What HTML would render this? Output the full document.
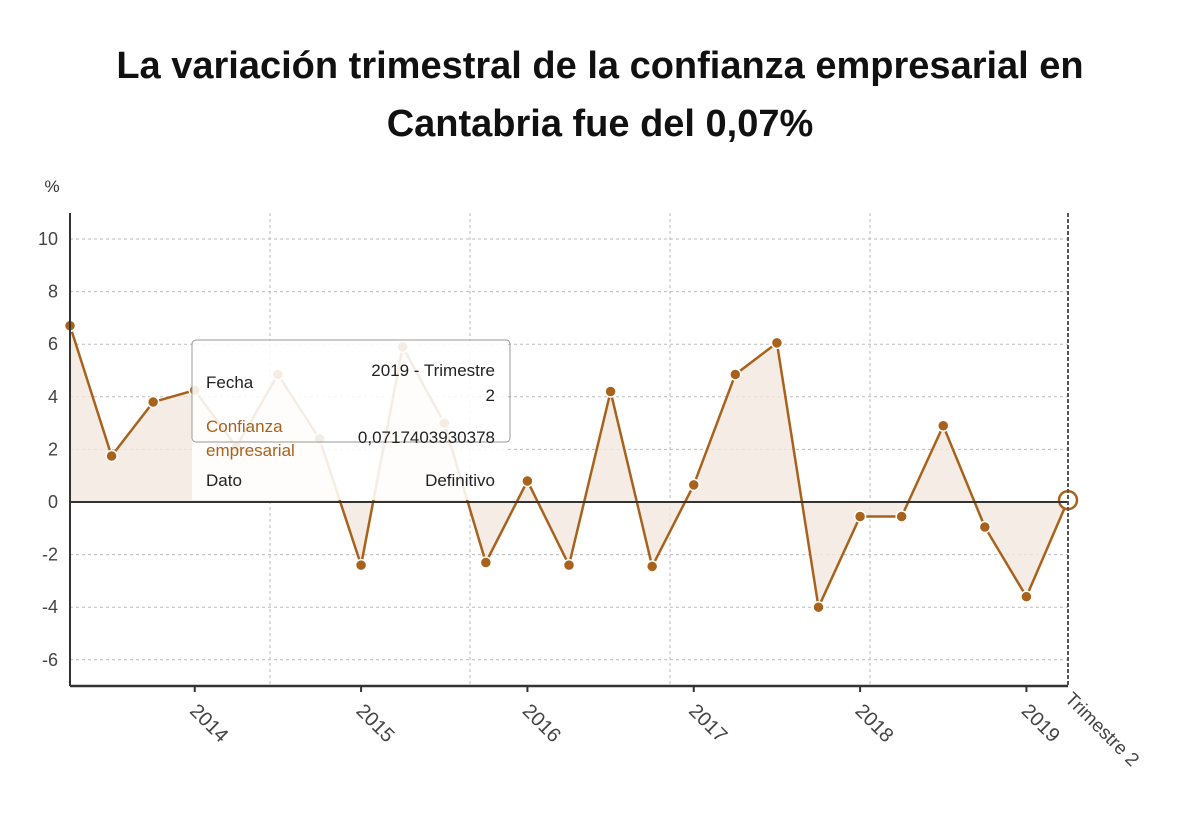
<!DOCTYPE html>
<html><head><meta charset="utf-8"><style>
body{margin:0;background:#fff;font-family:"Liberation Sans",sans-serif}
</style></head><body>
<svg width="1200" height="808" xmlns="http://www.w3.org/2000/svg">
<text x="600" y="78" text-anchor="middle" font-size="38" font-weight="bold" fill="#111">La variación trimestral de la confianza empresarial en</text>
<text x="600" y="136" text-anchor="middle" font-size="38" font-weight="bold" fill="#111">Cantabria fue del 0,07%</text>
<text x="52" y="192" text-anchor="middle" font-size="17" fill="#333">%</text>
<g id="grid"></g><g id="area"></g><g id="line"></g><g id="axes"></g><g id="tip"></g>
</svg>
<script>
const categories=["2013T2","2013T3","2013T4","2014T1","2014T2","2014T3","2014T4","2015T1","2015T2","2015T3","2015T4","2016T1","2016T2","2016T3","2016T4","2017T1","2017T2","2017T3","2017T4","2018T1","2018T2","2018T3","2018T4","2019T1","2019T2"];
const values=[6.7,1.75,3.8,4.25,2.1,4.85,2.4,-2.4,5.9,3.0,-2.3,0.8,-2.4,4.2,-2.45,0.65,4.85,6.05,-4.0,-0.55,-0.55,2.9,-0.95,-3.6,0.0717];
const yTicks=[10,8,6,4,2,0,-2,-4,-6];
const yearLabels=["2014","2015","2016","2017","2018","2019"];
const yearIndex=[3,7,11,15,19,23];
const NS="http://www.w3.org/2000/svg";
const X0=70,X1=1068,YT=213,YB=686;
const xs=i=>X0+(X1-X0)*i/(categories.length-1);
const ys=v=>502-v*26.3;
function mk(p,t,a){const e=document.createElementNS(NS,t);for(const k in a)e.setAttribute(k,a[k]);document.getElementById(p).appendChild(e);return e;}
yTicks.forEach(t=>{
 const l=mk('grid','line',{x1:X0,x2:X1,y1:ys(t),y2:ys(t),stroke:'#bbb','stroke-dasharray':'3,3'});
 
 
 const tx=mk('axes','text',{x:58,y:ys(t)+6,'text-anchor':'end','font-size':18,fill:'#444'});tx.textContent=t;
 
 
});
[270,470,670,870].forEach(x=>{
 const l=mk('grid','line',{x1:x,x2:x,y1:YT,y2:YB,stroke:'#bbb','stroke-dasharray':'3,3'});
 
 
});
let d='M'+xs(0)+','+ys(0);values.forEach((v,i)=>d+=' L'+xs(i)+','+ys(v));d+=' L'+xs(values.length-1)+','+ys(0)+'Z';
const ar=mk('area','path',{d:d,fill:'#f3e9df',opacity:0.8});


const z=mk('axes','line',{x1:X0,x2:X1,y1:ys(0),y2:ys(0),stroke:'#333','stroke-width':2});


const lp=mk('line','polyline',{points:values.map((v,i)=>xs(i)+','+ys(v)).join(' '),fill:'none',stroke:'#a8621c','stroke-width':2.5});


values.forEach((v,i)=>{
 const last=i===values.length-1;
 const c=mk('line','circle',{cx:xs(i),cy:ys(v),r:last?9:5.5,fill:last?'#fff':'#a8621c',stroke:last?'#a8621c':'#fff','stroke-width':last?2.5:1.5});
 
 
});
mk('axes','line',{x1:X0,x2:X0,y1:YT,y2:YB,stroke:'#333','stroke-width':2});
mk('axes','line',{x1:X1,x2:X1,y1:YT,y2:YB,stroke:'#555','stroke-width':2,'stroke-dasharray':'4,2'});
const xb=mk('axes','line',{x1:X0,x2:X1,y1:YB,y2:YB,stroke:'#333','stroke-width':2.5});


yearLabels.forEach((y,k)=>{
 const x=xs(yearIndex[k]);
 mk('axes','line',{x1:x,x2:x,y1:YB,y2:YB+6,stroke:'#333','stroke-width':2});
 const t=mk('axes','text',{x:x-6,y:YB+26,'font-size':20,fill:'#444',transform:`rotate(45 ${x-6} ${YB+26})`});t.textContent=y;
 
 
});
const tl=mk('axes','text',{x:X1-4,y:YB+14,'font-size':19,fill:'#444',transform:`rotate(45 ${X1-4} ${YB+14})`});tl.textContent='Trimestre 2';


// tooltip
const bg=mk('tip','rect',{x:192,y:340,width:316,height:160,fill:'#fff',opacity:0.88});


mk('tip','rect',{x:192,y:340,width:318,height:102,rx:4,fill:'none',stroke:'#999','stroke-width':1});
const T=(x,y,s,a,c)=>{const e=mk('tip','text',{x:x,y:y,'font-size':17,'text-anchor':a,fill:c});e.textContent=s;return e;};
T(206,388,'Fecha','start','#222');T(495,376,'2019 - Trimestre','end','#222');T(495,401,'2','end','#222');
T(206,432,'Confianza','start','#a8621c');T(206,456,'empresarial','start','#a8621c');T(495,443,'0,0717403930378','end','#222');
T(206,486,'Dato','start','#222');T(495,486,'Definitivo','end','#222');
</script>
</body></html>
